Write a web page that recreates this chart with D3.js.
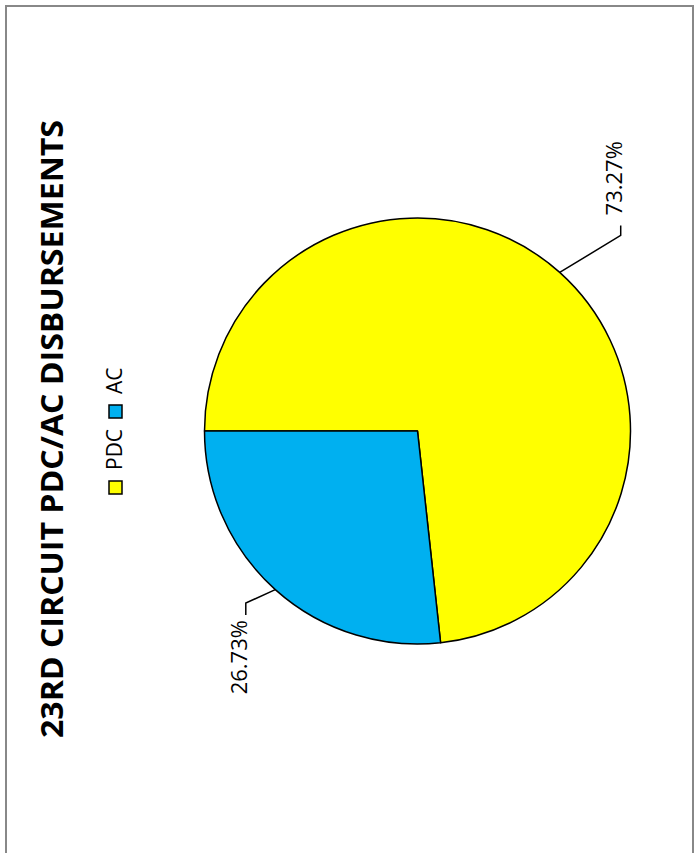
<!DOCTYPE html>
<html><head><meta charset="utf-8">
<script src="https://cdn.jsdelivr.net/npm/d3@7/dist/d3.min.js"></script>
<style>html,body{margin:0;padding:0;background:#fff;overflow:hidden}</style>
</head><body>
<svg id="c" width="696" height="853"></svg>
<script>
const title = "23RD CIRCUIT PDC/AC DISBURSEMENTS";
const categories = ["PDC", "AC"];
const values = [73.27, 26.73];
const colors = ["#FFFF00", "#00B0F0"];
// label leader offsets (styling): elbow offset from arc edge, tail length
const labelOffsets = [[37, 61, 10], [-13.5, -29.5, -12]];

const W = 696, H = 853;
const svg = d3.select("#c");
svg.append("rect").attr("x", 6).attr("y", 6).attr("width", 687).attr("height", 900)
  .attr("fill", "#fff").attr("stroke", "#888").attr("stroke-width", 2);

// chart drawn in unrotated frame, then rotated -90deg
const g = svg.append("g").attr("transform", `translate(0,${H}) rotate(-90)`);

const cx = 422, cy = 417.5, r = 213;
const pie = d3.pie().sort(null).value(d => d)(values);
const arc = d3.arc().innerRadius(0).outerRadius(r);
const pg = g.append("g").attr("transform", `translate(${cx},${cy})`);
pg.selectAll("path").data(pie).join("path")
  .attr("d", arc).attr("fill", (d, i) => colors[i])
  .attr("stroke", "#000").attr("stroke-width", 1.5).attr("stroke-linejoin", "round");

pie.forEach((d, i) => {
  const a = (d.startAngle + d.endAngle) / 2;
  const x0 = r * Math.sin(a), y0 = -r * Math.cos(a);
  const [dx, dy, t] = labelOffsets[i];
  const x1 = x0 + dx, y1 = y0 + dy, x2 = x1 + t;
  pg.append("polyline").attr("points", `${x0},${y0} ${x1},${y1} ${x2},${y1}`)
    .attr("fill", "none").attr("stroke", "#000").attr("stroke-width", 1.5);
  pg.append("text").attr("x", x2 + (t > 0 ? 10 : -5)).attr("y", y1 + 1)
    .attr("text-anchor", t > 0 ? "start" : "end")
    .attr("font-family", "Open Sans").attr("font-size", 22).attr("fill", "#000")
    .text(d3.format(".2f")(values[i]) + "%");
});

// title
g.append("text").attr("x", 424).attr("y", 63).attr("text-anchor", "middle")
  .attr("font-family", "Open Sans").attr("font-weight", "bold").attr("font-size", 30)
  .attr("textLength", 618).attr("lengthAdjust", "spacingAndGlyphs")
  .attr("fill", "#000").text(title);

// legend
const lx = [359, 435];
categories.forEach((c, i) => {
  g.append("rect").attr("x", lx[i]).attr("y", 109).attr("width", 13).attr("height", 13)
    .attr("fill", colors[i]).attr("stroke", "#000").attr("stroke-width", 1.5);
  g.append("text").attr("x", lx[i] + 24).attr("y", 122)
    .attr("font-family", "Open Sans").attr("font-size", 21).attr("fill", "#000").text(c);
});
</script>
</body></html>
